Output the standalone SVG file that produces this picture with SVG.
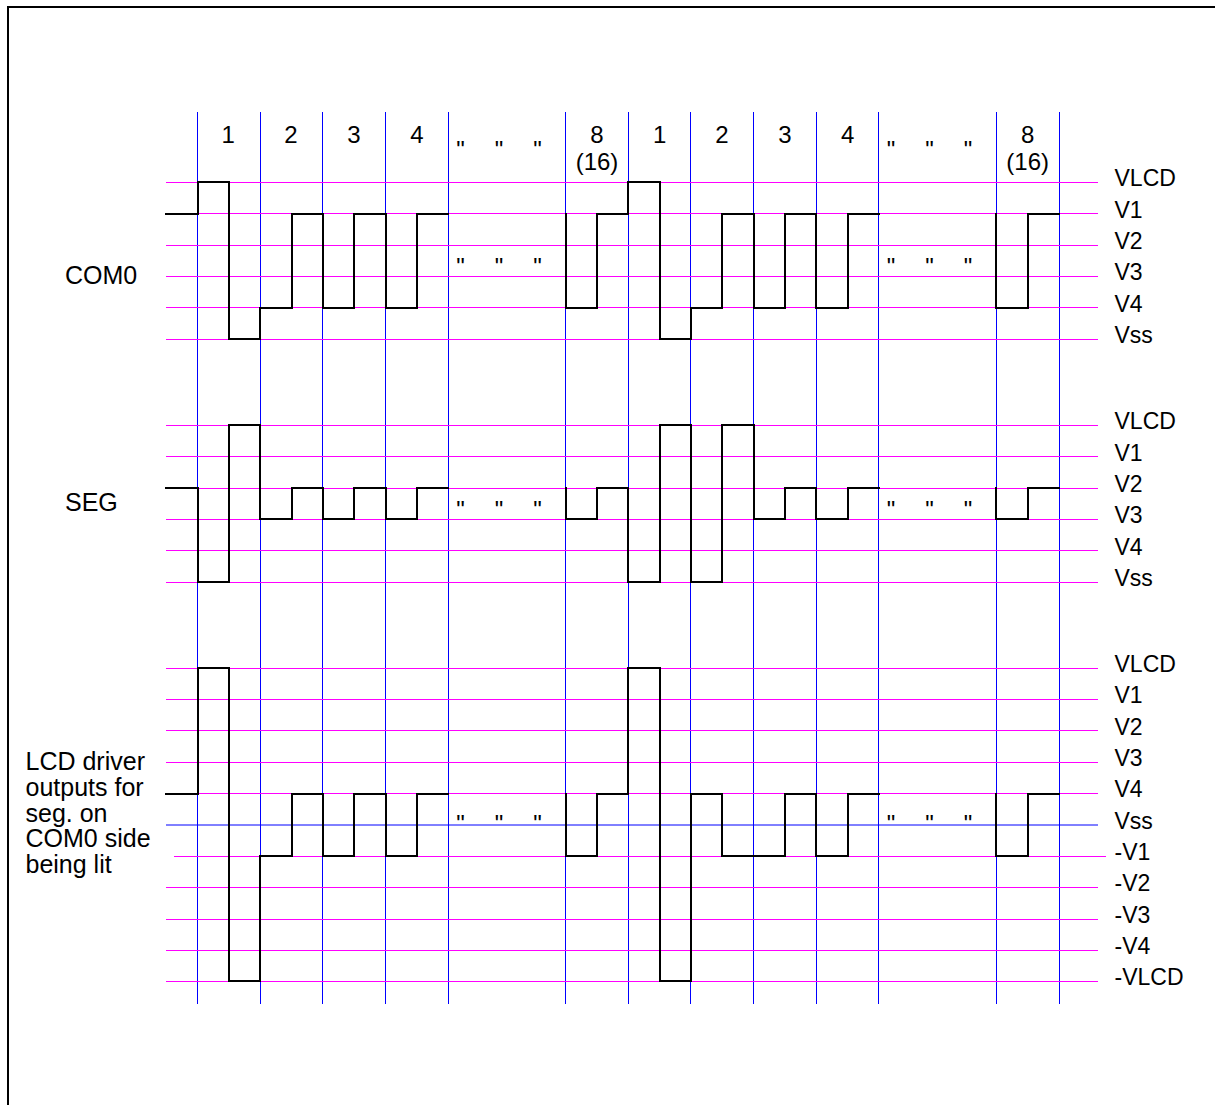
<svg xmlns="http://www.w3.org/2000/svg" width="1215" height="1105" viewBox="0 0 1215 1105">
<style>
.bg{fill:#ffffff}
.frame{fill:none;stroke:#000;stroke-width:2}
.vl{stroke:#0000ff;stroke-width:1;fill:none}
.hl{stroke:#ff00ff;stroke-width:1;fill:none}
.hb{stroke:#0000ff;stroke-width:1;fill:none}
.wave{fill:none;stroke:#000;stroke-width:2;stroke-linejoin:miter;stroke-linecap:square}
text{font-family:"Liberation Sans",Arial,Helvetica,sans-serif;fill:#000}
.num{font-size:24px;text-anchor:middle}
.lv{font-size:23px}
.big{font-size:25px}
.q{font-size:24px;text-anchor:middle}
</style>
<rect class="bg" x="0" y="0" width="1215" height="1105"/>
<path class="frame" d="M8,1106 V7 H1216"/>

<g id="time-grid">
<path class="vl" d="M197.5,112 V1004 M260.5,112 V1004 M322.5,112 V1004 M385.5,112 V1004 M448.5,112 V1004 M565.5,112 V1004 M628.5,112 V1004 M690.5,112 V1004 M753.5,112 V1004 M816.5,112 V1004 M878.5,112 V1004 M996.5,112 V1004 M1059.5,112 V1004"/>
</g>

<g id="slot-labels">
<text class="num" x="228.3" y="143">1</text>
<text class="num" x="291" y="143">2</text>
<text class="num" x="354" y="143">3</text>
<text class="num" x="417" y="143">4</text>
<text class="num" x="597" y="143">8</text>
<text class="num" x="597" y="169.5">(16)</text>
<text class="num" x="659.7" y="143">1</text>
<text class="num" x="722" y="143">2</text>
<text class="num" x="785" y="143">3</text>
<text class="num" x="847.7" y="143">4</text>
<text class="num" x="1027.7" y="143">8</text>
<text class="num" x="1027.7" y="169.5">(16)</text>
<text class="q" x="460.5" y="158">"</text>
<text class="q" x="499" y="158">"</text>
<text class="q" x="537.5" y="158">"</text>
<text class="q" x="891" y="158">"</text>
<text class="q" x="929.5" y="158">"</text>
<text class="q" x="968" y="158">"</text>
</g>

<g id="com0">
<path class="hl" d="M166,182.5 H1098 M166,213.5 H1098 M166,245.5 H1098 M166,276.5 H1098 M166,307.5 H1098 M166,339.5 H1098"/>
<text class="big" x="65" y="284">COM0</text>
<g class="levels">
<text class="lv" x="1114.5" y="186.3">VLCD</text>
<text class="lv" x="1114.5" y="217.7">V1</text>
<text class="lv" x="1114.5" y="249">V2</text>
<text class="lv" x="1114.5" y="280.3">V3</text>
<text class="lv" x="1114.5" y="311.7">V4</text>
<text class="lv" x="1114.5" y="343">Vss</text>
</g>
<text class="q" x="460.5" y="275">"</text>
<text class="q" x="499" y="275">"</text>
<text class="q" x="537.5" y="275">"</text>
<text class="q" x="891" y="275">"</text>
<text class="q" x="929.5" y="275">"</text>
<text class="q" x="968" y="275">"</text>
<path class="wave" d="M166,214 H198 V182 H229 V339 H260 V308 H292 V214 H323 V308 H354 V214 H386 V308 H417 V214 H448"/>
<path class="wave" d="M566,214 V308 H597 V214 H628 V182 H660 V339 H691 V308 H722 V214 H754 V308 H785 V214 H816 V308 H848 V214 H879"/>
<path class="wave" d="M996,214 V308 H1028 V214 H1059"/>
</g>

<g id="seg">
<path class="hl" d="M166,425.5 H1098 M166,456.5 H1098 M166,488.5 H1098 M166,519.5 H1098 M166,550.5 H1098 M166,582.5 H1098"/>
<text class="big" x="65" y="511">SEG</text>
<g class="levels">
<text class="lv" x="1114.5" y="429">VLCD</text>
<text class="lv" x="1114.5" y="460.5">V1</text>
<text class="lv" x="1114.5" y="491.7">V2</text>
<text class="lv" x="1114.5" y="523">V3</text>
<text class="lv" x="1114.5" y="554.5">V4</text>
<text class="lv" x="1114.5" y="585.7">Vss</text>
</g>
<text class="q" x="460.5" y="517.5">"</text>
<text class="q" x="499" y="517.5">"</text>
<text class="q" x="537.5" y="517.5">"</text>
<text class="q" x="891" y="517.5">"</text>
<text class="q" x="929.5" y="517.5">"</text>
<text class="q" x="968" y="517.5">"</text>
<path class="wave" d="M166,488 H198 V582 H229 V425 H260 V519 H292 V488 H323 V519 H354 V488 H386 V519 H417 V488 H448"/>
<path class="wave" d="M566,488 V519 H597 V488 H628 V582 H660 V425 H691 V582 H722 V425 H754 V519 H785 V488 H816 V519 H848 V488 H879"/>
<path class="wave" d="M996,488 V519 H1028 V488 H1059"/>
</g>

<g id="lcd-output">
<path class="hl" d="M166,668.5 H1098 M166,699.5 H1098 M166,730.5 H1098 M166,762.5 H1098 M166,793.5 H1098 M174,856.5 H1106 M166,887.5 H1098 M166,919.5 H1098 M166,950.5 H1098 M166,981.5 H1098"/>
<path class="hb" d="M166,825 H1098"/>
<text class="big" x="25.5"><tspan x="25.5" y="770">LCD driver</tspan><tspan x="25.5" y="795.8">outputs for</tspan><tspan x="25.5" y="821.6">seg. on</tspan><tspan x="25.5" y="847.4">COM0 side</tspan><tspan x="25.5" y="873.2">being lit</tspan></text>
<g class="levels">
<text class="lv" x="1114.5" y="672">VLCD</text>
<text class="lv" x="1114.5" y="703.3">V1</text>
<text class="lv" x="1114.5" y="734.7">V2</text>
<text class="lv" x="1114.5" y="766">V3</text>
<text class="lv" x="1114.5" y="797.3">V4</text>
<text class="lv" x="1114.5" y="828.7">Vss</text>
<text class="lv" x="1114.5" y="860">-V1</text>
<text class="lv" x="1114.5" y="891.3">-V2</text>
<text class="lv" x="1114.5" y="922.7">-V3</text>
<text class="lv" x="1114.5" y="954">-V4</text>
<text class="lv" x="1114.5" y="985.3">-VLCD</text>
</g>
<text class="q" x="460.5" y="831.5">"</text>
<text class="q" x="499" y="831.5">"</text>
<text class="q" x="537.5" y="831.5">"</text>
<text class="q" x="891" y="831.5">"</text>
<text class="q" x="929.5" y="831.5">"</text>
<text class="q" x="968" y="831.5">"</text>
<path class="wave" d="M166,794 H198 V668 H229 V981 H260 V856 H292 V794 H323 V856 H354 V794 H386 V856 H417 V794 H448"/>
<path class="wave" d="M566,794 V856 H597 V794 H628 V668 H660 V981 H691 V794 H722 V856 H785 V794 H816 V856 H848 V794 H879"/>
<path class="wave" d="M996,794 V856 H1028 V794 H1059"/>
</g>
</svg>
